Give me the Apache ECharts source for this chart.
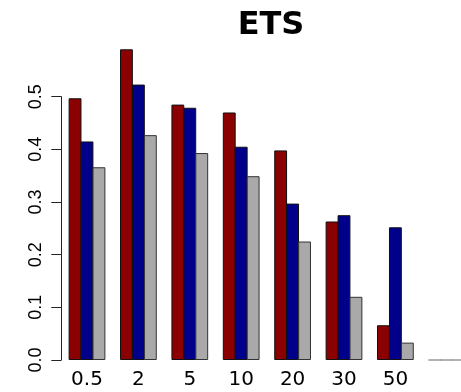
<!DOCTYPE html>
<html>
<head>
<meta charset="utf-8">
<script src="https://cdn.jsdelivr.net/npm/echarts@6/dist/echarts.min.js"></script>
<style>html,body{margin:0;padding:0;background:#fff;}#c{width:461px;height:392px;}</style>
</head>
<body>
<div id="c"></div>
<script>
const categories = ['0.5', '2', '5', '10', '20', '30', '50', ''];
const seriesRed  = [0.497, 0.590, 0.485, 0.470, 0.398, 0.263, 0.066, 0];
const seriesBlue = [0.415, 0.523, 0.479, 0.405, 0.297, 0.275, 0.252, 0];
const seriesGray = [0.366, 0.427, 0.393, 0.349, 0.225, 0.120, 0.033, 0];
const yTicks = [0, 0.1, 0.2, 0.3, 0.4, 0.5];

const chart = echarts.init(document.getElementById('c'), null, {renderer: 'canvas'});
function mk(name, data, color, border) {
  return {
    type: 'bar', name: name, barWidth: 12.85, barGap: '-7%', clip: false,
    data: data.map(v => v === 0 ? {value: v, itemStyle: {borderColor: '#999'}} : v),
    itemStyle: {color: color, borderColor: border, borderWidth: 1},
    emphasis: {disabled: true}
  };
}
chart.setOption({
  animation: false,
  title: {
    text: 'ETS', left: 266, top: 5, textAlign: 'center',
    textStyle: {fontFamily: 'DejaVu Sans', fontWeight: 'bold', fontSize: 32, color: '#000'}
  },
  grid: {left: 61.3, top: 96.7, width: 411.2, height: 263.3, containLabel: false, outerBoundsMode: 'none'},
  xAxis: {
    type: 'category', data: categories,
    axisLine: {show: false}, axisTick: {show: false},
    axisLabel: {margin: 10, fontFamily: 'DejaVu Sans', fontSize: 20, color: '#000', interval: 0}
  },
  yAxis: {
    type: 'value', min: 0, max: yTicks[yTicks.length - 1], interval: 0.1,
    splitLine: {show: false},
    axisLine: {show: true, lineStyle: {color: '#222', width: 1}},
    axisTick: {show: true, length: 10, lineStyle: {color: '#222', width: 1}},
    axisLabel: {rotate: 90, margin: 16, fontFamily: 'Liberation Sans', fontSize: 18, color: '#000',
      formatter: v => v.toFixed(1)}
  },
  series: [
    mk('a', seriesRed, '#8B0000', '#111'),
    mk('b', seriesBlue, '#00008B', '#111'),
    mk('c', seriesGray, '#A9A9A9', '#333')
  ]
});
</script>
</body>
</html>
